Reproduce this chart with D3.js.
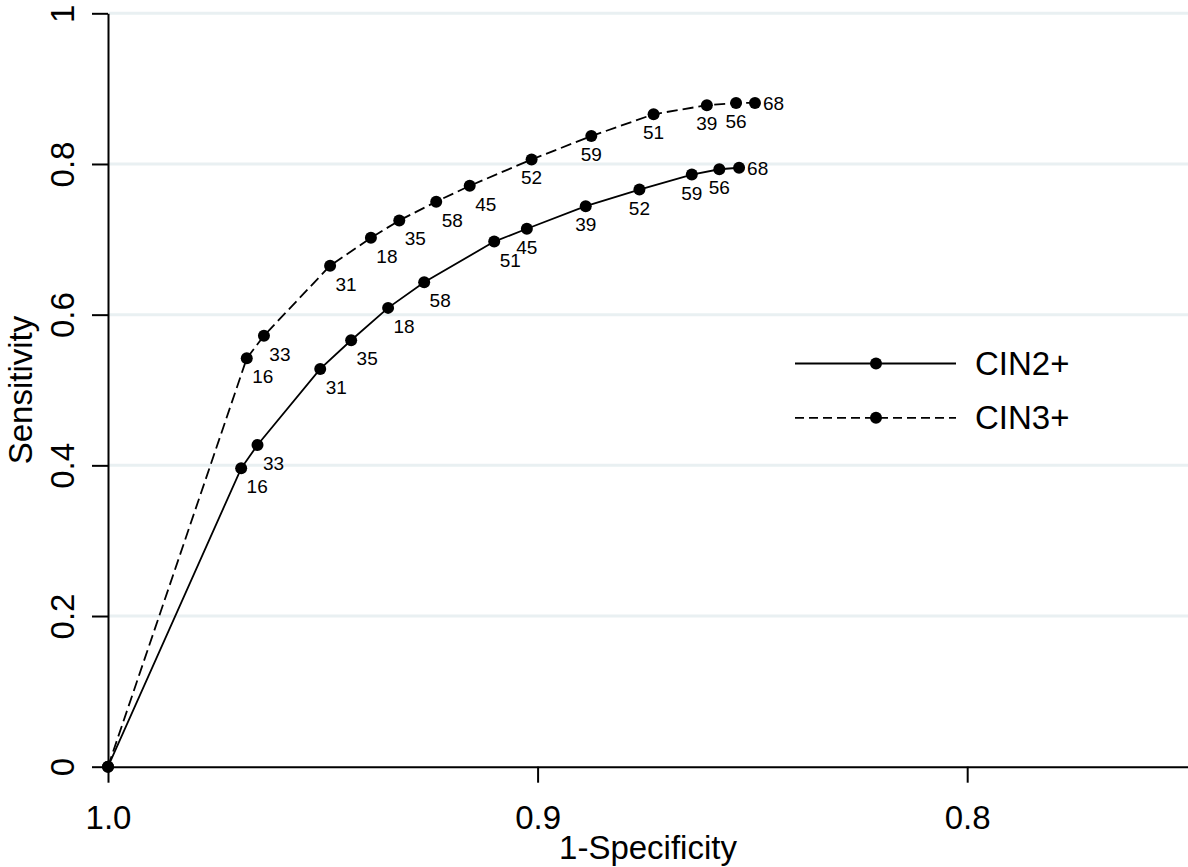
<!DOCTYPE html>
<html>
<head>
<meta charset="utf-8">
<title>ROC curves CIN2+ / CIN3+</title>
<script src="https://cdn.jsdelivr.net/npm/d3@7"></script>
<style>
  body { margin: 0; background: #fff; }
  svg { display: block; font-family: Arial, "Liberation Sans", sans-serif; }
  .grid line { stroke: #e9f0f2; stroke-width: 3; }
  .axis path, .axis line { stroke: #000; stroke-width: 2; }
  .axis text { font-size: 33px; fill: #000; }
  .ptlab { font-size: 19px; fill: #000; }
</style>
</head>
<body>
<script>
// data: x = specificity (axis runs 1.0 -> 0.8), y = sensitivity
var cin2Labels = ['', '16', '33', '31', '35', '18', '58', '51', '45', '39', '52', '59', '56', '68'];
var cin2Spec   = [1.0, 0.9690, 0.9652, 0.9506, 0.9434, 0.9348, 0.9264, 0.9101, 0.9025, 0.8888, 0.8763, 0.8641, 0.8577, 0.8531];
var cin2Sens   = [0, 0.396, 0.427, 0.528, 0.566, 0.609, 0.643, 0.697, 0.714, 0.744, 0.766, 0.786, 0.793, 0.795];

var cin3Labels = ['', '16', '33', '31', '18', '35', '58', '45', '52', '59', '51', '39', '56', '68'];
var cin3Spec   = [1.0, 0.9677, 0.9637, 0.9483, 0.9388, 0.9322, 0.9236, 0.9158, 0.9014, 0.8875, 0.8730, 0.8606, 0.8538, 0.8494];
var cin3Sens   = [0, 0.542, 0.572, 0.665, 0.702, 0.725, 0.750, 0.771, 0.806, 0.837, 0.866, 0.878, 0.881, 0.881];

var seriesNames = ['CIN2+', 'CIN3+'];
var xTicks = [1.0, 0.9, 0.8];
var yTicks = [0, 0.2, 0.4, 0.6, 0.8, 1];

var w = 1188, h = 867;
var svg = d3.select('body').append('svg').attr('width', w).attr('height', h);

var x = d3.scaleLinear().domain([1.0, 0.7486]).range([108, 1188]);
var y = d3.scaleLinear().domain([0, 1]).range([766.7, 13.3]);

function rows(labels, spec, sens) {
  return labels.map(function(l, i) { return {lab: l, x: spec[i], y: sens[i]}; });
}
var series = [
  {name: seriesNames[0], dash: null, pts: rows(cin2Labels, cin2Spec, cin2Sens)},
  {name: seriesNames[1], dash: '11,5', pts: rows(cin3Labels, cin3Spec, cin3Sens)}
];

// gridlines
svg.append('g').attr('class', 'grid').selectAll('line')
  .data(yTicks.filter(function(d) { return d > 0; })).enter().append('line')
  .attr('x1', 109).attr('x2', w)
  .attr('y1', function(d) { return y(d); }).attr('y2', function(d) { return y(d); });

// axes
var xAxis = d3.axisBottom(x).tickValues(xTicks).tickSize(16).tickSizeOuter(0)
  .tickFormat(function(d) { return d.toFixed(1); });
var gx = svg.append('g').attr('class', 'axis').attr('transform', 'translate(0,' + y(0) + ')').call(xAxis);
gx.selectAll('text').attr('y', 62).attr('dy', null);

var yAxis = d3.axisLeft(y).tickValues(yTicks).tickSize(16).tickSizeOuter(0)
  .tickFormat(function(d) { return (d === 0 || d === 1) ? String(d) : d.toFixed(1); });
var gy = svg.append('g').attr('class', 'axis').attr('transform', 'translate(' + x(1.0) + ',0)').call(yAxis);
gy.selectAll('text').attr('x', null).attr('dy', null).attr('text-anchor', 'middle')
  .attr('transform', 'translate(-34,0) rotate(-90)');

// axis titles
svg.append('text').attr('x', (x.range()[0] + x.range()[1]) / 2).attr('y', 859)
  .attr('text-anchor', 'middle').attr('font-size', 33).text('1-Specificity');
svg.append('text').attr('transform', 'translate(32,' + (y(0) + y(1)) / 2 + ') rotate(-90)')
  .attr('text-anchor', 'middle').attr('font-size', 33).text('Sensitivity');

// lines
var line = d3.line().x(function(d) { return x(d.x); }).y(function(d) { return y(d.y); });
var plot = svg.append('g');
series.forEach(function(s) {
  plot.append('path').datum(s.pts).attr('d', line)
    .attr('fill', 'none').attr('stroke', '#000').attr('stroke-width', 1.8)
    .attr('stroke-dasharray', s.dash);
});
series.forEach(function(s) {
  plot.append('g').selectAll('circle').data(s.pts).enter().append('circle')
    .attr('cx', function(d) { return x(d.x); }).attr('cy', function(d) { return y(d.y); })
    .attr('r', 6).attr('fill', '#000');

  // labels: lower right on the steep part, centred below further along, last one to the right
  var n = s.pts.length;
  plot.append('g').selectAll('text').data(s.pts).enter().append('text')
    .attr('class', 'ptlab')
    .attr('x', function(d, i) {
      if (i === n - 1) return x(d.x) + 8;
      return d.x > 0.906 ? x(d.x) + 16 : x(d.x);
    })
    .attr('y', function(d, i) { return i === n - 1 ? y(d.y) + 7 : y(d.y) + 25; })
    .attr('text-anchor', function(d, i) { return i === n - 1 ? 'start' : 'middle'; })
    .text(function(d) { return d.lab; });
});

// legend
var legend = svg.append('g');
series.forEach(function(s, i) {
  var ly = 363.5 + i * 54.3;
  legend.append('line').attr('x1', 795).attr('x2', 956).attr('y1', ly).attr('y2', ly)
    .attr('stroke', '#000').attr('stroke-width', 1.8).attr('stroke-dasharray', s.dash ? '9,5' : null);
  legend.append('circle').attr('cx', 876).attr('cy', ly).attr('r', 6).attr('fill', '#000');
  legend.append('text').attr('x', 975).attr('y', ly + 11.5).attr('font-size', 33).text(s.name);
});
</script>
</body>
</html>
